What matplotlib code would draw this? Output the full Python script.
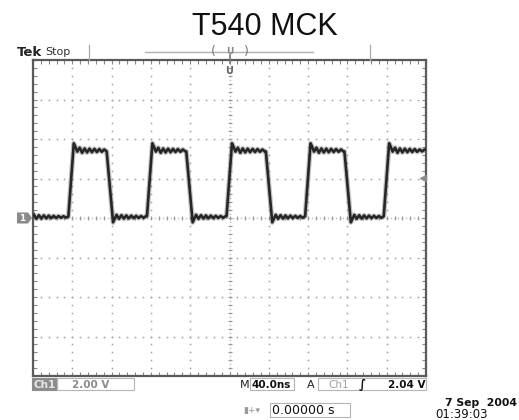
import numpy as np
import matplotlib
matplotlib.use("Agg")
import matplotlib.pyplot as plt
from matplotlib.patches import Rectangle, Polygon

# ---------------- data ----------------
title = "T540 MCK"
time_per_div_ns = 40.0
volts_per_div = 2.0
rise_starts_ns = [-164, -84, -3, 77, 157]
fall_starts_ns = [-125, -44, 37, 117]
rise_time_ns = 5.5
fall_time_ns = 6.5
# ripple on the high plateau (time after rise end, volts)
hi_t = [0, 1.5, 3.5, 6, 8.5, 11, 13.5, 16, 18.5, 21, 23.5, 26, 28.5, 31, 33.5, 36, 38.5]
hi_v = [3.78, 3.62, 3.36, 3.56, 3.30, 3.52, 3.32, 3.51, 3.33, 3.50, 3.34, 3.49, 3.35, 3.47, 3.37, 3.46, 3.39]
# ripple on the low plateau (time after fall end, volts)
lo_t = [0, 1.5, 3.5, 6, 8.5, 11, 13.5, 16, 18.5, 21, 23.5, 26, 28.5, 31, 33.5, 36, 38.5]
lo_v = [-0.22, -0.06, 0.16, -0.04, 0.14, -0.03, 0.13, -0.02, 0.12, -0.01, 0.11, 0.00, 0.10, 0.01, 0.09, 0.02, 0.07]
ch1_scale = "2.00 V"
timebase = "40.0ns"
trig_src = "Ch1"
trig_level_v = 2.04
trig_level_txt = "2.04 V"
h_pos = "0.00000 s"
date_txt = "7 Sep  2004"
time_txt = "01:39:03"

# ---------------- build trace ----------------
x_min, x_max = -5 * time_per_div_ns, 5 * time_per_div_ns
y_min, y_max = -4 * volts_per_div, 4 * volts_per_div

tt, vv = [], []

def add_plateau(start, end, rt, rv, phase=0.0):
    for a, b in zip(rt, rv):
        t = start + a - phase
        if start <= t <= end:
            tt.append(t)
            vv.append(b)

add_plateau(x_min, rise_starts_ns[0], lo_t, lo_v, phase=lo_t[-1] - (rise_starts_ns[0] - x_min))
for i, rs in enumerate(rise_starts_ns):
    tt.append(rs); vv.append(vv[-1])
    re = rs + rise_time_ns
    nxt_fall = fall_starts_ns[i] if i < len(fall_starts_ns) else x_max
    add_plateau(re, nxt_fall, hi_t, hi_v)
    if i < len(fall_starts_ns):
        fs = fall_starts_ns[i]
        tt.append(fs); vv.append(vv[-1])
        fe = fs + fall_time_ns
        add_plateau(fe, rise_starts_ns[i + 1], lo_t, lo_v)
    else:
        tt.append(x_max); vv.append(vv[-1])

# ---------------- figure ----------------
W, H = 519, 420
fig = plt.figure(figsize=(W / 100, H / 100), dpi=100)
fig.patch.set_facecolor("white")

def P(x, y):
    return (x / W, 1 - y / H)

L, R, T, B = 33, 426, 60, 376
ax = fig.add_axes([L / W, 1 - B / H, (R - L) / W, (B - T) / H])
ax.set_xlim(x_min, x_max)
ax.set_ylim(y_min, y_max)
ax.set_facecolor("white")
for s in ax.spines.values():
    s.set_color("#5a5a5a")
    s.set_linewidth(1.6)

minor_x = np.arange(x_min, x_max + 0.1, time_per_div_ns / 5)
minor_y = np.arange(y_min, y_max + 0.01, volts_per_div / 5)
ax.set_xticks(minor_x)
ax.set_yticks(minor_y)
ax.tick_params(direction="in", length=3, width=0.8, color="#888888",
               top=True, bottom=True, left=True, right=True,
               labelbottom=False, labelleft=False)

# dotted graticule
gx = np.arange(x_min + time_per_div_ns, x_max, time_per_div_ns)
gy = np.arange(y_min + volts_per_div, y_max, volts_per_div)
for x in gx:
    ax.plot(np.full_like(minor_y, x), minor_y, ls="none", marker="s",
            ms=1.1, mec="none", mfc="#a0a0a0", zorder=1)
for y in gy:
    ax.plot(minor_x, np.full_like(minor_x, y), ls="none", marker="s",
            ms=1.1, mec="none", mfc="#a0a0a0", zorder=1)
# center cross with ticks
ax.plot(minor_x, np.zeros_like(minor_x), ls="none", marker="|", ms=3.2,
        mew=0.8, color="#999999", zorder=1)
ax.plot(np.zeros_like(minor_y), minor_y, ls="none", marker="_", ms=3.2,
        mew=0.8, color="#999999", zorder=1)
mid_x = minor_x[:-1] + time_per_div_ns / 10
mid_y = minor_y[:-1] + volts_per_div / 10
ax.plot(mid_x, np.zeros_like(mid_x), ls="none", marker="s", ms=0.9, mec="none",
        mfc="#b0b0b0", zorder=1)
ax.plot(np.zeros_like(mid_y), mid_y, ls="none", marker="s", ms=0.9, mec="none",
        mfc="#b0b0b0", zorder=1)

# trace
ax.plot(tt, vv, color="#555555", lw=3.6, alpha=0.35, solid_joinstyle="round", zorder=3)
ax.plot(tt, vv, color="#262626", lw=1.9, solid_joinstyle="round", zorder=4)

# trigger level marker (right)
ax.plot([x_max - 3.5], [trig_level_v], marker="<", ms=5, color="#8a8a8a",
        clip_on=False, zorder=5)

# ---------------- annotations ----------------
fig.text(*P(265, 27), title, ha="center", va="center", fontsize=22,
         family="Liberation Sans", color="#111111")

fig.text(*P(17, 52), "Tek", ha="left", va="center", fontsize=9.5,
         fontweight="bold", color="#222222", family="DejaVu Sans")
fig.text(*P(45, 52), "Stop", ha="left", va="center", fontsize=8,
         color="#333333", family="DejaVu Sans")

# top bar elements
fig.add_artist(plt.Line2D([89 / W, 89 / W], [1 - 45 / H, 1 - 60 / H], color="#aaaaaa", lw=0.9))
fig.add_artist(plt.Line2D([370 / W, 370 / W], [1 - 45 / H, 1 - 60 / H], color="#aaaaaa", lw=0.9))
fig.add_artist(plt.Line2D([145 / W, 313 / W], [1 - 52 / H, 1 - 52 / H], color="#b0b0b0", lw=1.0))
fig.text(*P(213, 52), "(", ha="center", va="center", fontsize=9, color="#777777")
fig.text(*P(246, 52), ")", ha="center", va="center", fontsize=9, color="#777777")
fig.text(*P(229.5, 51), "U", ha="center", va="center", fontsize=6.5, color="#888888",
         fontweight="bold")
fig.add_artist(plt.Line2D([229.5 / W, 229.5 / W], [1 - 55 / H, 1 - 63 / H], color="#777777", lw=1.2))
fig.text(*P(229.5, 71), "U", ha="center", va="center", fontsize=7, color="#666666",
         fontweight="bold")

# ground marker
gy_pix = 218
fig.add_artist(Polygon([P(17, gy_pix - 5.5), P(28, gy_pix - 5.5), P(32, gy_pix),
                        P(28, gy_pix + 5.5), P(17, gy_pix + 5.5)],
                       closed=True, transform=fig.transFigure, fc="#8a8a8a", ec="none"))
fig.text(*P(22.5, gy_pix), "1", ha="center", va="center", fontsize=6.5,
         color="white", fontweight="bold")

def box(x0, y0, x1, y1, fc="none", ec="#b5b5b5"):
    fig.add_artist(Rectangle(P(x0, y1), (x1 - x0) / W, (y1 - y0) / H,
                             transform=fig.transFigure, fc=fc, ec=ec, lw=0.8))

# bottom status line
box(32, 378, 57, 390, fc="#8c8c8c", ec="#8c8c8c")
fig.text(*P(44.5, 384.5), "Ch1", ha="center", va="center", fontsize=7.5,
         color="#e8e8e8", fontweight="bold", family="DejaVu Sans")
box(57, 378, 134, 390)
fig.text(*P(72, 384.5), ch1_scale, ha="left", va="center", fontsize=7.5,
         color="#8a8a8a", fontweight="bold", family="DejaVu Sans")

fig.text(*P(240, 384.5), "M", ha="left", va="center", fontsize=8,
         color="#222222", family="DejaVu Sans")
box(250, 378, 294, 390)
fig.text(*P(252, 384.5), timebase, ha="left", va="center", fontsize=7.5,
         color="#111111", fontweight="bold", family="DejaVu Sans")
fig.text(*P(307, 384.5), "A", ha="left", va="center", fontsize=8,
         color="#222222", family="DejaVu Sans")
box(318, 378, 426, 390)
fig.text(*P(328, 384.5), trig_src, ha="left", va="center", fontsize=7.5,
         color="#a0a0a0", family="DejaVu Sans")
fig.text(*P(362, 384.5), "\u222b", ha="center", va="center", fontsize=8.5,
         color="#111111", fontweight="bold", family="DejaVu Sans")
fig.text(*P(425, 384.5), trig_level_txt, ha="right", va="center", fontsize=7.5,
         color="#111111", fontweight="bold", family="DejaVu Sans")

fig.text(*P(243, 410), "\u25ae+\u25be", ha="left", va="center", fontsize=6.5,
         color="#999999", family="DejaVu Sans")
box(270, 403, 350, 417)
fig.text(*P(272, 410), h_pos, ha="left", va="center", fontsize=9,
         color="#111111", family="DejaVu Sans")

fig.text(*P(445, 403), date_txt, ha="left", va="center", fontsize=7.8,
         color="#111111", fontweight="bold", family="DejaVu Sans")
fig.text(*P(435, 414), time_txt, ha="left", va="center", fontsize=8.5,
         color="#111111", family="DejaVu Sans")

fig.savefig("out.png", dpi=100, facecolor="white")
